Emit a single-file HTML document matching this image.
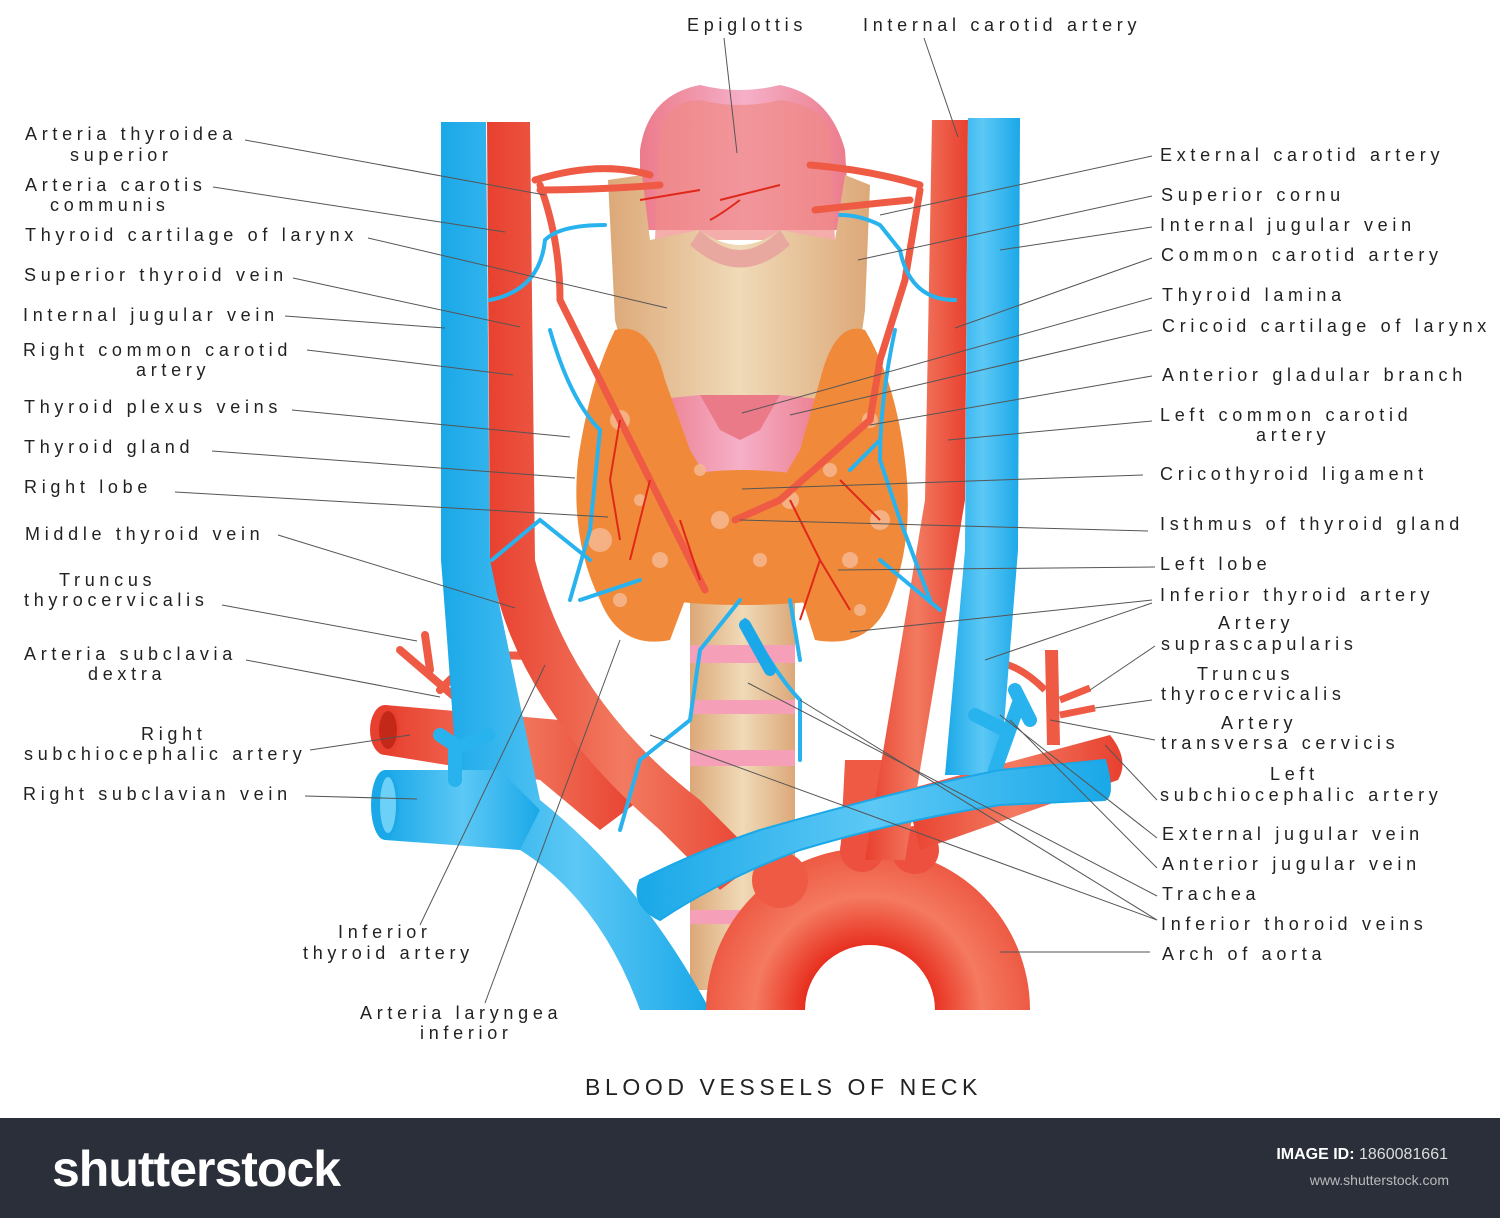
<!DOCTYPE html>
<html><head><meta charset="utf-8"><style>
html,body{margin:0;padding:0;background:#fff}
body{width:1500px;height:1218px;position:relative;overflow:hidden;font-family:"Liberation Sans",sans-serif}
svg{position:absolute;left:0;top:0}
.t{font-family:"Liberation Sans",sans-serif;font-size:18px;letter-spacing:4.7px;fill:#222}
.bar{position:absolute;left:0;top:1118px;width:1500px;height:100px;background:#2a2f3a}
</style></head><body>
<svg width="1500" height="1118" viewBox="0 0 1500 1118">
<defs>
<linearGradient id="red" x1="0" x2="1"><stop offset="0" stop-color="#e8402f"/><stop offset=".5" stop-color="#f27a60"/><stop offset="1" stop-color="#e8402f"/></linearGradient>
<linearGradient id="blue" x1="0" x2="1"><stop offset="0" stop-color="#1aa8e8"/><stop offset=".5" stop-color="#5cc8f5"/><stop offset="1" stop-color="#1aa8e8"/></linearGradient>
<linearGradient id="tan" x1="0" x2="1"><stop offset="0" stop-color="#dca878"/><stop offset=".5" stop-color="#f0dab8"/><stop offset="1" stop-color="#dca878"/></linearGradient>
<linearGradient id="pink" x1="0" x2="1"><stop offset="0" stop-color="#ec7a8a"/><stop offset=".5" stop-color="#f5b0c8"/><stop offset="1" stop-color="#ec7a8a"/></linearGradient>
<radialGradient id="aor" cx="868" cy="1010" r="162" gradientUnits="userSpaceOnUse"><stop offset=".4" stop-color="#e83020"/><stop offset=".7" stop-color="#f47a60"/><stop offset="1" stop-color="#ee5a44"/></radialGradient>
</defs>

<!-- trachea -->
<rect x="690" y="590" width="105" height="400" fill="url(#tan)"/>
<g fill="#f5a0b8"><rect x="690" y="645" width="105" height="18"/><rect x="690" y="700" width="105" height="14"/><rect x="690" y="750" width="105" height="16"/><rect x="690" y="910" width="105" height="14"/></g>

<!-- right (image left) subclavian artery -->
<path d="M385 705 L560 720 L640 800 L600 830 L540 780 L385 755 Z" fill="url(#red)"/>
<ellipse cx="385" cy="730" rx="15" ry="25" fill="#e8402f"/><ellipse cx="388" cy="730" rx="9" ry="19" fill="#c42818"/>
<g stroke="#ee5a44" stroke-width="8" fill="none" stroke-linecap="round">
<path d="M470 710 L400 650"/><path d="M430 670 L425 635"/><path d="M440 690 L470 660 Q520 650 560 662"/></g>
<!-- left common carotid (image left) -->
<path d="M487 122 L530 122 L535 560 Q570 700 700 800 L760 860 L720 890 L660 830 Q510 700 490 560 Z" fill="url(#red)"/>

<!-- left blue vein -->
<path d="M441 122 L486 122 L490 560 L540 800 Q640 880 710 1010 L640 1010 Q600 900 520 850 L460 830 Q452 700 441 560 Z" fill="url(#blue)"/>
<path d="M385 770 L500 770 L540 810 L520 850 L385 840 Z" fill="url(#blue)"/>
<ellipse cx="385" cy="805" rx="14" ry="35" fill="#1aa8e8"/><ellipse cx="388" cy="805" rx="8" ry="28" fill="#6dd0f7"/>
<path d="M455 780 L455 745 L440 735 M465 745 L488 735" stroke="#29b3ee" stroke-width="14" fill="none" stroke-linecap="round"/>

<!-- aorta arch -->
<path d="M706 1010 A162 162 0 0 1 1030 1010 L935 1010 A65 65 0 0 0 805 1010 Z" fill="url(#aor)"/>
<circle cx="780" cy="880" r="28" fill="#ef5a44"/>
<path d="M845 760 L890 760 L885 860 L840 860 Z" fill="#ef5a44"/><circle cx="862" cy="850" r="22" fill="#ee5040"/>
<circle cx="915" cy="850" r="24" fill="#ee5040"/>
<!-- left subclavian artery -->
<path d="M905 790 L1110 735 Q1130 760 1118 780 L920 850 Z" fill="url(#red)"/>
<path d="M1045 650 L1058 650 L1060 745 L1047 745 Z" fill="#ee5a44"/>
<g stroke="#ee5a44" stroke-width="7" fill="none"><path d="M1060 700 L1090 688"/><path d="M1060 715 L1095 708"/><path d="M1045 690 Q1010 655 975 662"/></g>
<!-- right common carotid (image right) -->
<path d="M932 120 L968 120 L965 500 L905 860 L865 860 L925 500 Z" fill="url(#red)"/>
<!-- right IJV -->
<path d="M968 118 L1020 118 L1018 550 L1000 775 L945 775 L965 550 Z" fill="url(#blue)"/>
<path d="M995 770 L1020 700 M975 715 L1005 730 M1015 690 L1030 720" stroke="#29b3ee" stroke-width="14" fill="none" stroke-linecap="round"/>
<!-- left brachiocephalic vein -->
<path d="M640 880 Q700 850 760 830 Q900 790 1000 770 L1105 760 Q1115 795 1105 800 L1000 805 Q900 820 800 850 Q720 880 660 920 Q630 905 640 880 Z" fill="url(#blue)" stroke="#1aa8e8" stroke-width="2"/>

<!-- epiglottis -->
<path d="M640 150 Q648 95 700 85 Q740 95 780 85 Q830 95 845 150 L850 230 L640 230 Z" fill="url(#pink)"/>
<path d="M660 130 Q670 100 700 100 Q740 110 780 100 Q820 105 830 130 L835 240 L655 240 Z" fill="#ef8a88" opacity=".7"/>
<!-- thyroid cartilage -->
<path d="M608 180 L642 175 L650 240 L700 230 Q740 260 780 230 L835 240 L845 175 L870 185 L865 310 L850 420 L640 420 L615 320 Z" fill="url(#tan)"/>
<path d="M700 230 Q740 270 780 230 L790 245 Q740 290 690 245 Z" fill="#e8a8a0"/>
<!-- cricoid -->
<path d="M650 400 L700 395 Q740 420 780 395 L830 400 L825 480 L655 480 Z" fill="url(#pink)"/>
<path d="M700 395 L780 395 L760 430 L740 440 L720 430 Z" fill="#ea7a88"/>

<!-- thyroid lobes -->
<g fill="#f08a3a">
<path d="M615 330 Q650 320 665 380 L690 450 L720 500 L700 560 L670 640 Q620 650 600 600 Q570 540 578 460 Q590 380 615 330 Z"/>
<path d="M865 330 Q835 320 820 380 L800 450 L770 500 L790 560 L815 640 Q870 650 890 600 Q915 540 905 460 Q895 380 865 330 Z"/>
<path d="M660 480 Q740 460 830 480 L830 600 Q740 610 660 600 Z"/>
</g>
<g fill="#f7b890" opacity=".85">
<circle cx="620" cy="420" r="10"/><circle cx="600" cy="540" r="12"/><circle cx="640" cy="500" r="6"/><circle cx="660" cy="560" r="8"/><circle cx="720" cy="520" r="9"/><circle cx="700" cy="470" r="6"/><circle cx="790" cy="500" r="9"/><circle cx="830" cy="470" r="7"/><circle cx="870" cy="420" r="8"/><circle cx="880" cy="520" r="10"/><circle cx="850" cy="560" r="8"/><circle cx="760" cy="560" r="7"/><circle cx="620" cy="600" r="7"/><circle cx="860" cy="610" r="6"/>
</g>
<g stroke="#ee5a44" stroke-width="7" fill="none" stroke-linecap="round">
<path d="M540 185 Q560 240 560 300 L640 460 L705 590"/>
<path d="M920 190 L905 280 L880 360 L870 420 L780 500 L735 520"/>
<path d="M535 180 Q600 160 650 175 M540 190 Q600 190 660 185 M920 185 Q870 170 810 165 M910 200 Q860 205 815 210"/>
</g>
<g stroke="#e0281a" stroke-width="2" fill="none">
<path d="M620 420 L610 480 L620 540 M650 480 L630 560 M680 520 L700 580 M790 500 L820 560 L800 620 M840 480 L880 520 M820 560 L850 610 M700 190 L640 200 M780 185 L720 200 M740 200 Q720 215 710 220"/>
</g>
<g stroke="#29b3ee" stroke-width="4" fill="none" stroke-linecap="round">
<path d="M490 300 Q540 290 545 240 Q560 225 605 225"/>
<path d="M550 330 Q570 400 600 430 L590 530 L570 600"/>
<path d="M580 600 L640 580 M590 560 L540 520 L492 560"/>
<path d="M955 300 Q910 300 900 250 L880 225 Q860 215 840 215"/>
<path d="M895 330 Q880 400 880 460 L900 520 L930 600"/>
<path d="M880 560 L940 610 M880 440 L850 470"/>
<path d="M740 600 L700 650 L690 720 L640 760 L620 830"/>
<path d="M745 620 Q780 680 800 700 L800 760"/>
<path d="M790 600 L800 660"/>
</g>
<path d="M745 625 L770 670" stroke="#1aa8e8" stroke-width="12" stroke-linecap="round"/>

<!-- leader lines -->
<g stroke="#555" stroke-width="1" fill="none">
<path d="M245 140 L545 195"/><path d="M213 187 L505 232"/><path d="M368 238 L667 308"/>
<path d="M293 278 L520 327"/><path d="M285 316 L445 328"/><path d="M307 350 L513 375"/>
<path d="M292 410 L570 437"/><path d="M212 451 L575 478"/><path d="M175 492 L608 517"/>
<path d="M278 535 L515 608"/><path d="M222 605 L417 641"/><path d="M246 660 L440 697"/>
<path d="M310 750 L410 735"/><path d="M305 796 L417 799"/>
<path d="M420 925 L545 665"/><path d="M485 1003 L620 640"/>
<path d="M724 38 L737 153"/><path d="M924 38 L958 137"/>
<path d="M1152 156 L880 215"/><path d="M1152 196 L858 260"/><path d="M1152 227 L1000 250"/><path d="M1152 258 L955 328"/>
<path d="M1152 298 L742 413"/><path d="M1152 330 L790 415"/><path d="M1152 376 L870 425"/><path d="M1152 421 L948 440"/>
<path d="M1143 475 L742 489"/><path d="M1148 531 L740 520"/><path d="M1155 567 L838 570"/>
<path d="M1152 600 L850 632"/><path d="M1152 603 L985 660"/><path d="M1155 646 L1090 690"/><path d="M1152 700 L1095 708"/>
<path d="M1155 740 L1050 720"/><path d="M1157 800 L1105 745"/>
<path d="M1157 838 L1000 715"/><path d="M1157 868 L1010 720"/><path d="M1157 896 L748 683"/>
<path d="M1157 920 L800 700"/><path d="M1157 920 L650 735"/><path d="M1150 952 L1000 952"/>
</g>

<g class="t">
<text x="25" y="140">Arteria thyroidea</text><text x="70" y="161">superior</text>
<text x="25" y="191">Arteria carotis</text><text x="50" y="211">communis</text>
<text x="25" y="241">Thyroid cartilage of larynx</text>
<text x="24" y="281">Superior thyroid vein</text>
<text x="23" y="321">Internal jugular vein</text>
<text x="23" y="356">Right common carotid</text><text x="136" y="376">artery</text>
<text x="24" y="413">Thyroid  plexus veins</text>
<text x="24" y="453">Thyroid  gland</text>
<text x="24" y="493">Right lobe</text>
<text x="25" y="540">Middle thyroid vein</text>
<text x="59" y="586">Truncus</text><text x="24" y="606">thyrocervicalis</text>
<text x="24" y="660">Arteria subclavia</text><text x="88" y="680">dextra</text>
<text x="141" y="740">Right</text><text x="24" y="760">subchiocephalic artery</text>
<text x="23" y="800">Right subclavian  vein</text>
<text x="338" y="938">Inferior</text><text x="303" y="959">thyroid artery</text>
<text x="360" y="1019">Arteria laryngea</text><text x="420" y="1039">inferior</text>
<text x="687" y="31">Epiglottis</text><text x="863" y="31">Internal carotid artery</text>
</g>
<g class="t">
<text x="1160" y="161">External carotid artery</text>
<text x="1161" y="201">Superior  cornu</text>
<text x="1160" y="231">Internal jugular vein</text>
<text x="1161" y="261">Common carotid artery</text>
<text x="1162" y="301">Thyroid  lamina</text>
<text x="1162" y="332">Cricoid cartilage of larynx</text>
<text x="1162" y="381">Anterior gladular branch</text>
<text x="1160" y="421">Left common carotid</text><text x="1256" y="441">artery</text>
<text x="1160" y="480">Cricothyroid  ligament</text>
<text x="1160" y="530">Isthmus of thyroid gland</text>
<text x="1160" y="570">Left lobe</text>
<text x="1160" y="601">Inferior thyroid artery</text>
<text x="1218" y="629">Artery</text><text x="1161" y="650">suprascapularis</text>
<text x="1197" y="680">Truncus</text><text x="1161" y="700">thyrocervicalis</text>
<text x="1221" y="729">Artery</text><text x="1161" y="749">transversa cervicis</text>
<text x="1270" y="780">Left</text><text x="1160" y="801">subchiocephalic artery</text>
<text x="1162" y="840">External jugular vein</text>
<text x="1162" y="870">Anterior jugular vein</text>
<text x="1162" y="900">Trachea</text>
<text x="1161" y="930">Inferior thoroid veins</text>
<text x="1162" y="960">Arch of aorta</text>
</g>
<text x="585" y="1095" style="font-family:'Liberation Sans',sans-serif;font-size:23px;letter-spacing:4.6px;fill:#222">BLOOD VESSELS OF NECK</text>
</svg>
<div class="bar">
<div style="position:absolute;left:52px;top:22px;color:#fff;font-size:50px;font-weight:bold;letter-spacing:-1px">shutterstock</div>
<div style="position:absolute;right:52px;top:28px;color:#ddd;font-size:16px"><b style="color:#fff">IMAGE ID:</b> 1860081661</div>
<div style="position:absolute;right:51px;top:54px;color:#bbb;font-size:14px">www.shutterstock.com</div>
</div>
</body></html>
